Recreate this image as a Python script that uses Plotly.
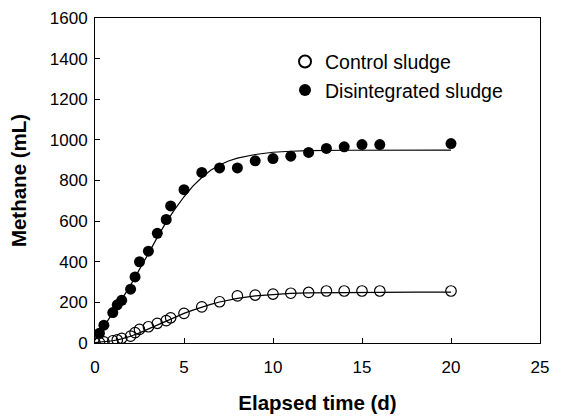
import plotly.graph_objects as go

# Measured data (days, mL)
ctrl_t = [0, 0.25, 0.5, 1, 1.25, 1.5, 2, 2.25, 2.5, 3, 3.5, 4, 4.25, 5, 6, 7, 8, 9, 10, 11, 12, 13, 14, 15, 16, 20]
ctrl_y = [0, 2, 6, 11, 15, 23, 34, 51, 67, 80, 97, 110, 124, 146, 178, 203, 232, 236, 241, 245, 249, 256, 256, 256, 256, 256]

dis_t = [0.25, 0.5, 1, 1.25, 1.5, 2, 2.25, 2.5, 3, 3.5, 4, 4.25, 5, 6, 7, 8, 9, 10, 11, 12, 13, 14, 15, 16, 20]
dis_y = [48, 88, 150, 188, 210, 265, 325, 400, 452, 540, 608, 675, 755, 840, 862, 862, 897, 908, 920, 938, 958, 966, 977, 977, 982]

# Fitted curves
fit_t = [0, 0.5, 1, 1.5, 2, 2.5, 3, 3.5, 4, 4.5, 5, 5.5, 6, 6.5, 7, 7.5, 8, 9, 10, 11, 12, 14, 16, 18, 20]
fit_dis = [15, 80, 148, 215, 285, 360, 440, 520, 595, 660, 720, 772, 815, 850, 876, 896, 910, 928, 939, 944, 947, 949, 950, 950, 950]
fit_ctrl = [2, 5, 11, 20, 33, 50, 70, 90, 110, 128, 146, 162, 177, 190, 202, 212, 220, 232, 239, 244, 247, 249, 250, 250, 250]

x_ticks = [0, 5, 10, 15, 20, 25]
y_ticks = [0, 200, 400, 600, 800, 1000, 1200, 1400, 1600]

FONT = "Liberation Sans, Arial, sans-serif"

fig = go.Figure()
fig.add_trace(go.Scatter(x=fit_t, y=fit_dis, mode="lines", line=dict(color="black", width=1.2),
                         showlegend=False, hoverinfo="skip"))
fig.add_trace(go.Scatter(x=fit_t, y=fit_ctrl, mode="lines", line=dict(color="black", width=1.2),
                         showlegend=False, hoverinfo="skip"))
fig.add_trace(go.Scatter(x=ctrl_t, y=ctrl_y, mode="markers", name="Control sludge", legendgroup="a",
                         marker=dict(symbol="circle-open", size=10.5, color="black", line=dict(width=1.2))))
fig.add_trace(go.Scatter(x=dis_t, y=dis_y, mode="markers", name="Disintegrated sludge", legendgroup="b",
                         marker=dict(symbol="circle", size=11, color="black")))

axis_common = dict(showline=True, linecolor="black", linewidth=1, mirror=True, ticks="inside",
                   ticklen=5, tickcolor="black", showgrid=False, zeroline=False,
                   tickfont=dict(family=FONT, size=17, color="black"))

fig.update_layout(
    width=561, height=418,
    margin=dict(l=95, r=21, t=18, b=75, autoexpand=False),
    paper_bgcolor="white", plot_bgcolor="white",
    font=dict(family=FONT, color="black"),
    xaxis=dict(range=[0, 25], tickvals=x_ticks, ticklabelstandoff=9,
               title=dict(text="<b>Elapsed time (d)</b>", font=dict(family=FONT, size=20.5), standoff=19),
               **axis_common),
    yaxis=dict(range=[0, 1600], tickvals=y_ticks, ticklabelstandoff=3,
               title=dict(text="<b>Methane (mL)</b>", font=dict(family=FONT, size=20.5), standoff=17),
               **axis_common),
    legend=dict(x=0.427, y=0.925, xanchor="left", yanchor="top", bgcolor="rgba(0,0,0,0)",
                font=dict(family=FONT, size=19.5), traceorder="grouped", tracegroupgap=0,
                itemsizing="constant"),
)

fig.write_html("out.html", config={"displayModeBar": False},
               post_script="document.body.style.margin='0';")
